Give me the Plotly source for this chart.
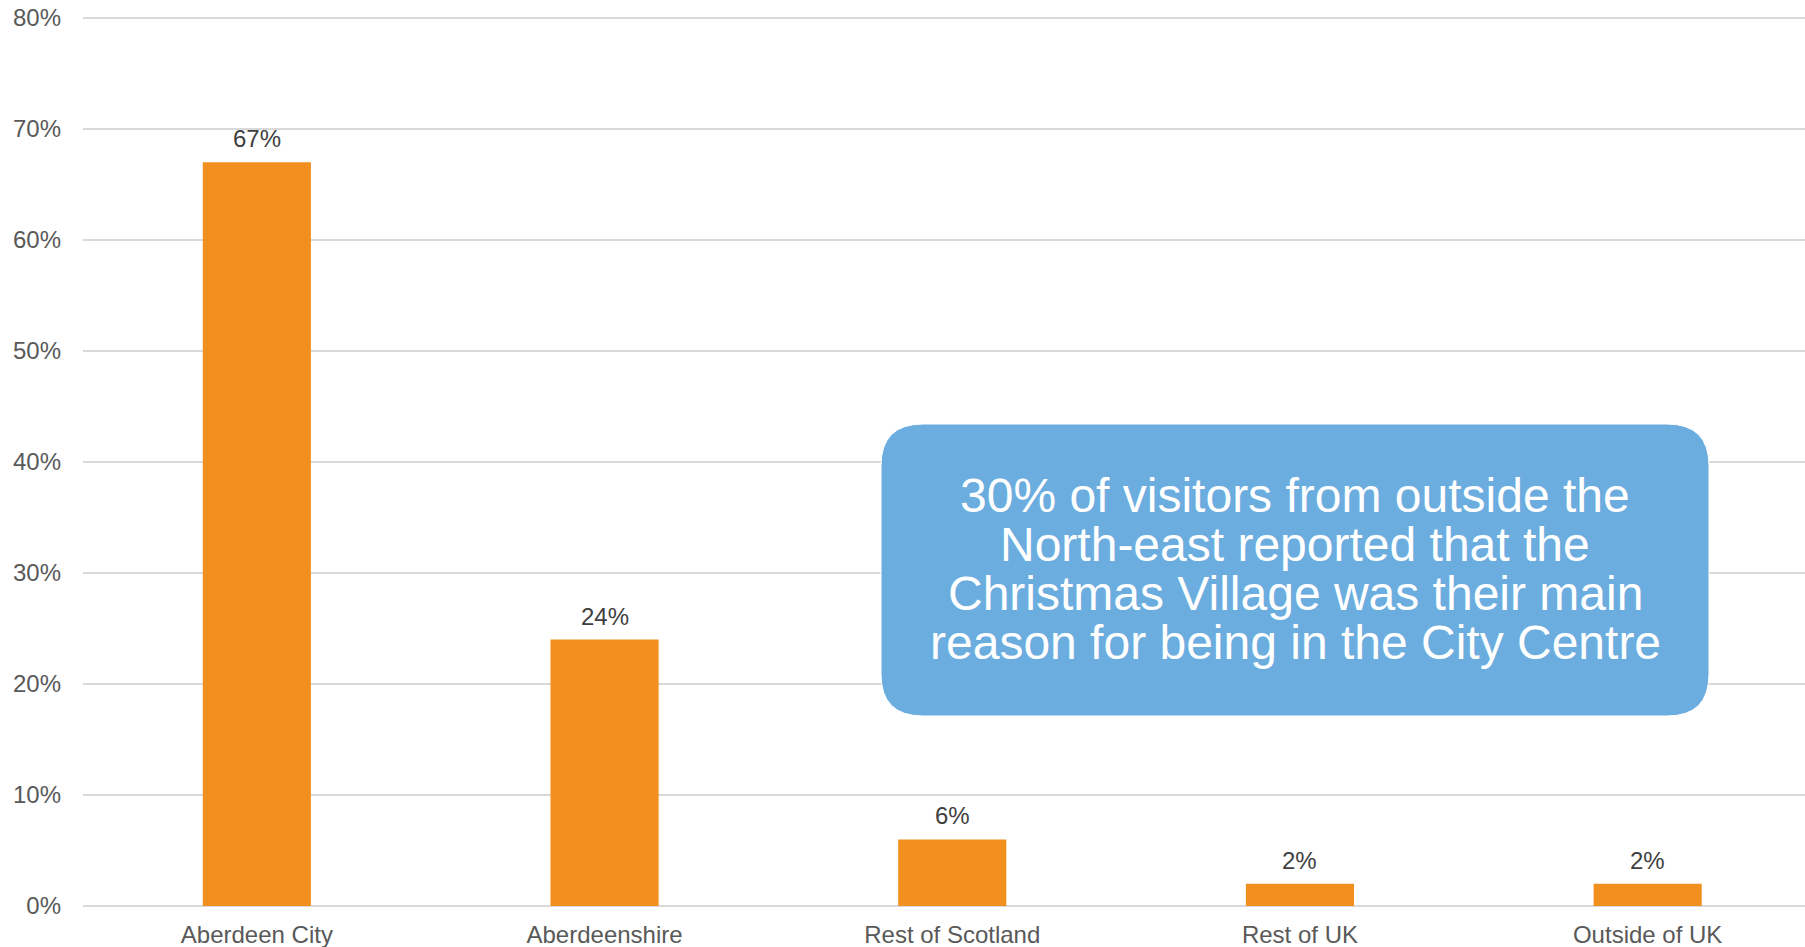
import plotly.graph_objects as go

# Visitor origin shares
categories = ["Aberdeen City", "Aberdeenshire", "Rest of Scotland", "Rest of UK", "Outside of UK"]
shares = [0.67, 0.24, 0.06, 0.02, 0.02]
value_labels = ["67%", "24%", "6%", "2%", "2%"]

callout_lines = [
    "30% of visitors from outside the",
    "North-east reported that the",
    "Christmas Village was their main",
    "reason for being in the City Centre",
]

W, H = 1805, 947
ML, MR, MB = 83, 0, 41
ZERO_PX, TOP_PX = H - MB, 18          # pixel rows of 0% and 80%
PX_PER_UNIT = (ZERO_PX - TOP_PX) / 0.8
MT = TOP_PX - 2                        # small headroom so the top gridline is drawn
Y_MAX = (ZERO_PX - MT) / PX_PER_UNIT
PW, PH = W - ML - MR, H - MT - MB
CAT_W = 347.7  # pixel width of one category slot

FONT = "Liberation Sans, Arial, sans-serif"
BAR_COLOR = "#F2901F"
BOX_COLOR = "#6BADDF"
GRID = "#D9D9D9"

fig = go.Figure()
fig.add_trace(go.Bar(
    x=list(range(len(categories))),
    y=shares,
    marker=dict(color=BAR_COLOR, line=dict(width=0)),
    hoverinfo="skip",
))

# Value labels above each bar
for i, (v, lab) in enumerate(zip(shares, value_labels)):
    fig.add_annotation(
        x=i, y=v, xref="x", yref="y", text=lab, showarrow=False,
        yanchor="bottom", yshift=8,
        font=dict(family=FONT, size=24, color="#404040"),
    )

# Rounded call-out box (pixel geometry converted to paper coordinates)
def px_x(p):
    return (p - ML) / PW

def px_y(p):
    return (H - MB - p) / PH

x0, x1, y0, y1, r = 881, 1709, 424, 716, 42
rx, ry = r / PW, r / PH
X0, X1, Y0, Y1 = px_x(x0), px_x(x1), px_y(y1), px_y(y0)
path = (
    f"M {X0+rx} {Y1} L {X1-rx} {Y1} Q {X1} {Y1} {X1} {Y1-ry} "
    f"L {X1} {Y0+ry} Q {X1} {Y0} {X1-rx} {Y0} "
    f"L {X0+rx} {Y0} Q {X0} {Y0} {X0} {Y0+ry} "
    f"L {X0} {Y1-ry} Q {X0} {Y1} {X0+rx} {Y1} Z"
)
fig.add_shape(type="path", path=path, xref="paper", yref="paper",
              fillcolor=BOX_COLOR, line=dict(color="white", width=1), layer="above")

line_centers = [495, 544, 593, 642]
for txt, cy in zip(callout_lines, line_centers):
    fig.add_annotation(
        x=px_x(1295), y=px_y(cy), xref="paper", yref="paper",
        text=txt, showarrow=False, xanchor="center", yanchor="middle",
        font=dict(family=FONT, size=48, color="white"),
    )

fig.update_layout(
    width=W, height=H,
    margin=dict(l=ML, r=MR, t=MT, b=MB, pad=0),
    paper_bgcolor="white", plot_bgcolor="white",
    bargap=0.689, showlegend=False,
    font=dict(family=FONT, size=24, color="#595959"),
)
fig.update_xaxes(
    range=[-0.5, -0.5 + PW / CAT_W],
    tickmode="array", tickvals=list(range(len(categories))), ticktext=categories,
    showgrid=False, zeroline=False, showline=False, ticks="",
    ticklabelstandoff=12,
    tickfont=dict(family=FONT, size=24, color="#595959"),
)
fig.update_yaxes(
    range=[0, Y_MAX], dtick=0.1, tick0=0, tickformat=".0%",
    showgrid=True, gridcolor=GRID, gridwidth=2,
    zeroline=True, zerolinecolor=GRID, zerolinewidth=2,
    showline=False, ticks="", ticklabelstandoff=21,
    tickfont=dict(family=FONT, size=24, color="#595959"),
)

fig.write_html("out.html", config={"displayModeBar": False})
